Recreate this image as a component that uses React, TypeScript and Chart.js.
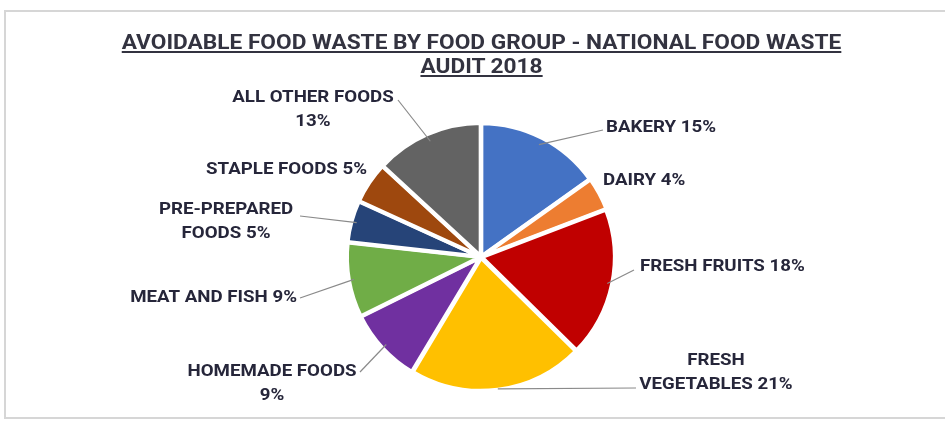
import React, { useEffect, useRef } from "react";
import { Chart, registerables } from "chart.js";

Chart.register(...registerables);

const TITLE_LINES = ["AVOIDABLE FOOD WASTE BY FOOD GROUP - NATIONAL FOOD WASTE", "AUDIT 2018"];
const CATEGORIES = [
  "BAKERY",
  "DAIRY",
  "FRESH FRUITS",
  "FRESH VEGETABLES",
  "HOMEMADE FOODS",
  "MEAT AND FISH",
  "PRE-PREPARED FOODS",
  "STAPLE FOODS",
  "ALL OTHER FOODS",
];
const VALUES = [15, 4, 18, 21, 9, 9, 5, 5, 13];
const LABEL_LINES = [
  ["BAKERY 15%"],
  ["DAIRY 4%"],
  ["FRESH FRUITS 18%"],
  ["FRESH", "VEGETABLES 21%"],
  ["HOMEMADE FOODS", "9%"],
  ["MEAT AND FISH 9%"],
  ["PRE-PREPARED", "FOODS 5%"],
  ["STAPLE FOODS 5%"],
  ["ALL OTHER FOODS", "13%"],
];
const COLORS = ["#4472C4", "#ED7D31", "#C00000", "#FFC000", "#7030A0", "#70AD47", "#264478", "#9E480E", "#636363"];

// label layout, relative to the pie centre: leader start (fraction of radius), elbow = end of leader line (null = no line), text anchor, alignment
const LABEL_LAYOUT: { start: number; elbow: [number, number] | null; text: [number, number]; align: CanvasTextAlign }[] = [
  { start: 0.95, elbow: [122, -127], text: [125, -129], align: "left" },
  { start: 0.95, elbow: null, text: [122, -76], align: "left" },
  { start: 0.97, elbow: [153, 13], text: [159, 10], align: "left" },
  { start: 1.0, elbow: [155, 131], text: [235, 104], align: "center" },
  { start: 0.97, elbow: [-121, 115], text: [-209, 115], align: "center" },
  { start: 0.97, elbow: [-181, 41], text: [-184, 41], align: "right" },
  { start: 0.97, elbow: [-181, -41], text: [-255, -47], align: "center" },
  { start: 0.95, elbow: null, text: [-114, -87], align: "right" },
  { start: 0.95, elbow: [-83, -157], text: [-168, -159], align: "center" },
];

const LABEL_FONT = "bold 17px Roboto, sans-serif";
const LABEL_STRETCH = 1.1;
const TEXT_COLOR = "#26263a";

const labelPlugin = {
  id: "outerLabels",
  beforeDraw(chart: any) {
    const ctx = chart.ctx;
    ctx.save();
    ctx.strokeStyle = "#d6d6d6";
    ctx.lineWidth = 2;
    ctx.strokeRect(5, 11, chart.width + 10, 407);
    ctx.restore();
  },
  afterDatasetsDraw(chart: any) {
    const ctx = chart.ctx;
    const meta = chart.getDatasetMeta(0);
    ctx.save();
    ctx.font = LABEL_FONT;
    ctx.fillStyle = TEXT_COLOR;
    ctx.textBaseline = "middle";
    meta.data.forEach((arc: any, i: number) => {
      const { x, y, startAngle, endAngle, outerRadius } = arc.getProps(
        ["x", "y", "startAngle", "endAngle", "outerRadius"],
        true
      );
      const mid = (startAngle + endAngle) / 2;
      const lay = LABEL_LAYOUT[i];
      if (lay.elbow) {
        const r = outerRadius * lay.start;
        ctx.beginPath();
        ctx.strokeStyle = "#8a8a8a";
        ctx.lineWidth = 1.2;
        ctx.moveTo(x + Math.cos(mid) * r, y + Math.sin(mid) * r);
        ctx.lineTo(x + lay.elbow[0], y + lay.elbow[1]);
        ctx.stroke();
      }
      ctx.textAlign = lay.align;
      LABEL_LINES[i].forEach((line, j) => {
        ctx.save();
        ctx.translate(x + lay.text[0], y + lay.text[1] + j * 24);
        ctx.scale(LABEL_STRETCH, 1);
        ctx.fillText(line, 0, 0);
        ctx.restore();
      });
    });
    ctx.restore();
  },
};

export default function App() {
  const canvasRef = useRef<HTMLCanvasElement | null>(null);

  useEffect(() => {
    document.body.style.margin = "0";
    const canvas = canvasRef.current;
    if (!canvas) return;
    const chart = new Chart(canvas, {
      type: "pie",
      data: {
        labels: CATEGORIES,
        datasets: [
          {
            data: VALUES,
            backgroundColor: COLORS,
            borderColor: "#ffffff",
            borderWidth: 4,
            offset: 3,
            hoverOffset: 0,
          },
        ],
      },
      options: {
        animation: false,
        responsive: false,
        maintainAspectRatio: false,
        radius: 133,
        layout: { padding: { left: 17, right: 0, top: 83, bottom: 0 } },
        plugins: {
          legend: { display: false },
          tooltip: { enabled: false },
          title: { display: false },
        },
        events: [],
      } as any,
      plugins: [labelPlugin],
    });
    return () => chart.destroy();
  }, []);

  return (
    <div style={{ position: "relative", width: 945, height: 431, background: "#ffffff", overflow: "hidden" }}>
      <canvas ref={canvasRef} width={945} height={431} style={{ position: "absolute", left: 0, top: 0 }} />
      <div
        style={{
          position: "absolute",
          left: 0,
          top: 30,
          width: 963,
          textAlign: "center",
          fontFamily: "Roboto, sans-serif",
          fontWeight: "bold",
          fontSize: 21,
          lineHeight: "24px",
          color: "#333340",
          textDecoration: "underline",
          transform: "scaleX(1.08)",
          transformOrigin: "481px 0",
        }}
      >
        {TITLE_LINES.map((t, i) => (
          <div key={i}>{t}</div>
        ))}
      </div>
    </div>
  );
}
